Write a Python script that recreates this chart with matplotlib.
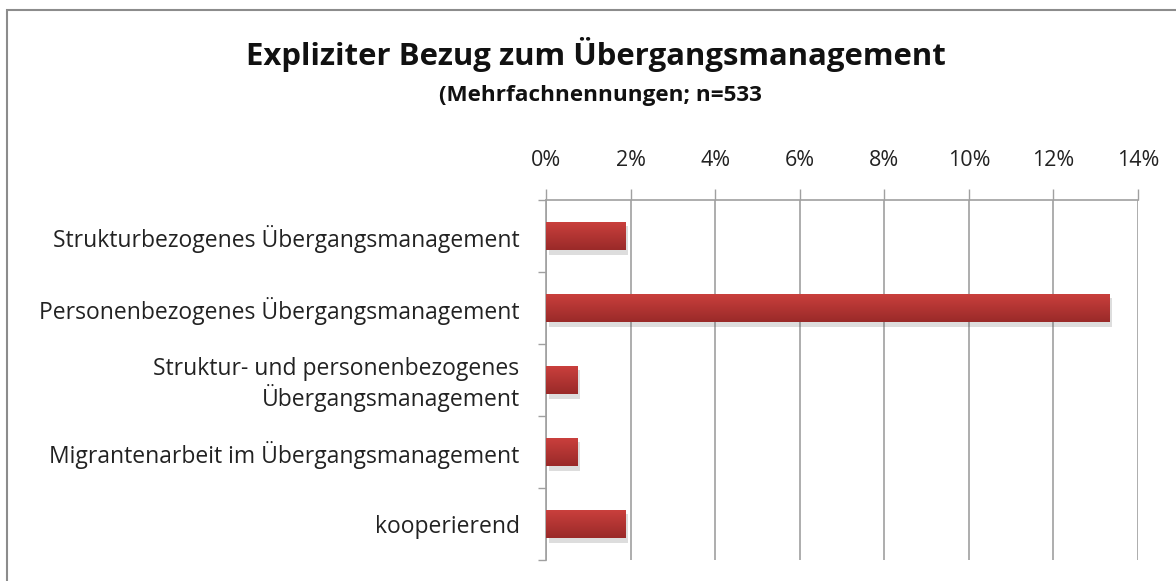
import matplotlib.pyplot as plt
import numpy as np
from matplotlib.patches import Rectangle
from matplotlib import patheffects as pe
from matplotlib.colors import LinearSegmentedColormap
from matplotlib.ticker import FuncFormatter, MultipleLocator, FixedLocator

plt.rcParams['font.family'] = ['Open Sans', 'DejaVu Sans']

# data (share of mentions, %)
categories = ['Strukturbezogenes Übergangsmanagement',
              'Personenbezogenes Übergangsmanagement',
              'Struktur- und personenbezogenes\nÜbergangsmanagement',
              'Migrantenarbeit im Übergangsmanagement',
              'kooperierend']
values = [1.88, 13.32, 0.75, 0.75, 1.88]

fig = plt.figure(figsize=(11.76, 5.81), dpi=100)
ax = fig.add_axes([546/1176, 1 - 560/581, (1138-546)/1176, 360/581])

# frame around the chart area
fig.patches.append(Rectangle((7/1176, -0.1), 1.2, 1 - 10/581 + 0.1, transform=fig.transFigure,
                             fill=False, edgecolor='#8c8c8c', linewidth=1.5))

y = np.arange(len(categories))
bars = ax.barh(y, values, height=0.4, color='#b53533', zorder=3,
               path_effects=[pe.SimplePatchShadow(offset=(2, -3), alpha=0.2, shadow_rgbFace='#555555'),
                             pe.Normal()])

# vertical gradient on each bar
grad = np.linspace(0, 1, 64).reshape(-1, 1)
cmap = LinearSegmentedColormap.from_list('bar', ['#cb403d', '#9a2a29'])
for b in bars:
    x0, y0, w, h = b.get_x(), b.get_y(), b.get_width(), b.get_height()
    im = ax.imshow(grad, extent=[x0, x0 + w, y0 + h, y0], cmap=cmap, aspect='auto', zorder=4)
    im.set_clip_path(b)

ax.set_xlim(0, 14)
ax.set_ylim(len(categories) - 0.5, -0.5)
ax.xaxis.set_major_locator(MultipleLocator(2))
ax.xaxis.set_major_formatter(FuncFormatter(lambda v, p: f'{v:.0f}%'))
ax.xaxis.tick_top()
ax.tick_params(axis='x', direction='out', length=8, width=1, color='#a0a0a0',
               labelsize=15.5, pad=13, labelcolor='#222222')
ax.grid(axis='x', color='#a0a0a0', linewidth=1.2, zorder=0)

ax.set_yticks(y)
ax.set_yticklabels(categories, fontsize=16.5, color='#222222', multialignment='right',
                   linespacing=1.12)
ax.yaxis.set_minor_locator(FixedLocator(np.arange(len(categories) + 1) - 0.5))
ax.tick_params(axis='y', which='major', length=0, pad=19)
ax.tick_params(axis='y', which='minor', direction='out', length=6, width=1, color='#a0a0a0')

for s in ['right', 'bottom']:
    ax.spines[s].set_visible(False)
for s in ['left', 'top']:
    ax.spines[s].set_color('#a0a0a0')
    ax.spines[s].set_linewidth(1.2)
ax.set_facecolor('white')

fig.text(596/1176, 1 - 55/581, 'Expliziter Bezug zum Übergangsmanagement', ha='center', va='center',
         fontsize=22.4, fontweight='bold', color='#111111')
fig.text(600/1176, 1 - 95/581, '(Mehrfachnennungen; n=533', ha='center', va='center',
         fontsize=16.2, fontweight='bold', color='#111111')

fig.savefig('out.png', dpi=100)
